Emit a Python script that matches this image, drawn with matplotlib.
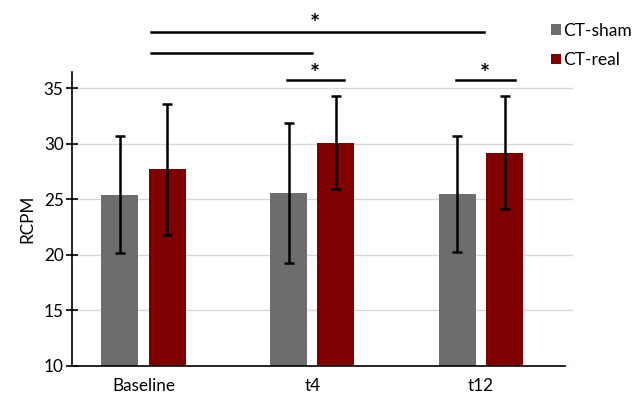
import matplotlib
matplotlib.use("Agg")
import matplotlib.pyplot as plt
import numpy as np

plt.rcParams['font.family'] = ['Lato', 'DejaVu Sans']

categories = ["Baseline", "t4", "t12"]
sham_mean = [25.4, 25.55, 25.45]
sham_err = [5.25, 6.3, 5.2]
real_mean = [27.7, 30.1, 29.2]
real_err = [5.9, 4.2, 5.1]
series_names = ["CT-sham", "CT-real"]
yticks = [10, 15, 20, 25, 30, 35]

sham_color = "#6d6d6d"
real_color = "#7f0000"
fs = 12.3

fig = plt.figure(figsize=(6.33, 3.93), dpi=100)
ax = fig.add_axes([72/633, 1-365.7/393, (573-72)/633, (365.7-72)/393])

x = np.arange(len(categories))
off = 0.14
w = 0.22
ax.bar(x - off, sham_mean, w, color=sham_color, zorder=2, label=series_names[0])
ax.bar(x + off, real_mean, w, color=real_color, zorder=2, label=series_names[1])
ax.errorbar(x - off, sham_mean, yerr=sham_err, fmt='none', ecolor='black',
            elinewidth=1.8, capsize=3.5, capthick=1.8, zorder=3)
ax.errorbar(x + off, real_mean, yerr=real_err, fmt='none', ecolor='black',
            elinewidth=1.8, capsize=3.5, capthick=1.8, zorder=3)

ax.set_ylim(10, 36.46)
ax.set_xlim(-0.4237, 2.545)
ax.set_yticks(yticks)
ax.set_xticks(x)
ax.set_xticklabels(categories, fontsize=fs)
ax.tick_params(axis='y', direction='inout', length=8, width=1.2, labelsize=fs, pad=2)
ax.tick_params(axis='x', length=0, labelsize=fs, pad=9)
ax.yaxis.grid(True, color='#d9d9d9', linewidth=1.0, zorder=0)
ax.set_axisbelow(True)
for s in ['top', 'right']:
    ax.spines[s].set_visible(False)
ax.spines['left'].set_linewidth(1.2)
ax.spines['bottom'].set_linewidth(1.2)
ax.spines['bottom'].set_bounds(-0.4237, 2.498)
ax.set_ylabel("RCPM", fontsize=fs, labelpad=6)

# significance bars
lines = [(0.045, 2.02, 40.06), (0.045, 1.0, 38.2), (0.85, 1.19, 35.77), (1.85, 2.2, 35.77)]
for x0, x1, yy in lines:
    ax.plot([x0, x1], [yy, yy], color='black', lw=1.8, clip_on=False, zorder=4)
stars = [(1.016, 40.75), (1.016, 36.25), (2.02, 36.25)]
for sx, sy in stars:
    ax.text(sx, sy, "*", ha='center', va='center', fontsize=17, fontweight='bold',
            clip_on=False)

leg = fig.legend(loc='upper left', bbox_to_anchor=(551/633, 1-23/393), frameon=False,
                 fontsize=12.5, handlelength=0.575, handleheight=0.575, handletextpad=0.15,
                 labelspacing=0.75, borderaxespad=0, borderpad=0)

fig.savefig("out.png", dpi=100)
